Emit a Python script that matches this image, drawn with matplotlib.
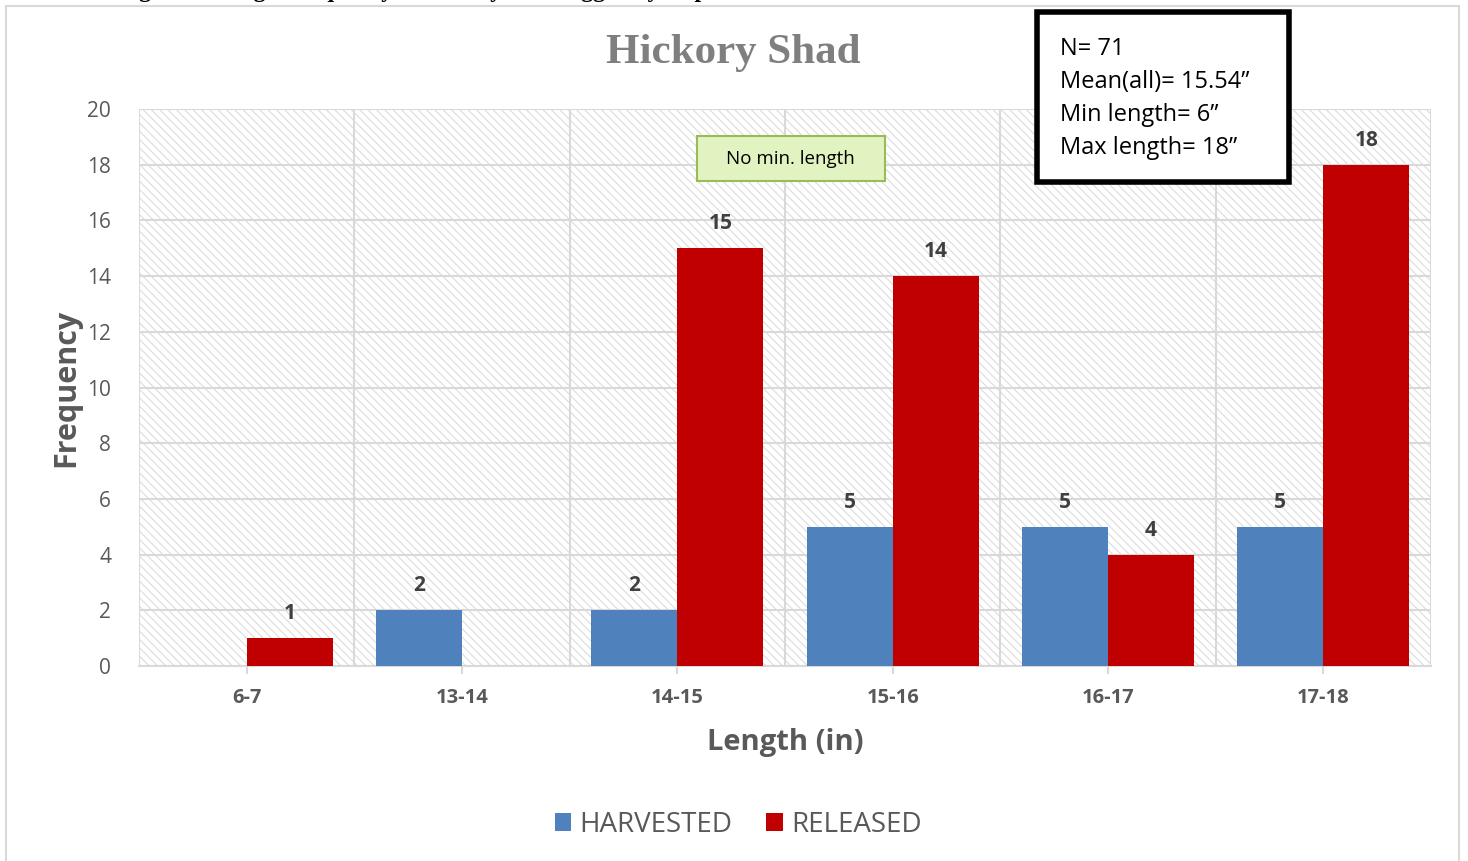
import matplotlib
matplotlib.use("Agg")
import matplotlib.pyplot as plt
import numpy as np
from matplotlib.patches import Rectangle

categories = ["6-7", "13-14", "14-15", "15-16", "16-17", "17-18"]
harvested = [0, 2, 2, 5, 5, 5]
released = [1, 0, 15, 14, 4, 18]
y_ticks = [0, 2, 4, 6, 8, 10, 12, 14, 16, 18, 20]
stats_lines = ["N= 71", "Mean(all)= 15.54\u201d", "Min length= 6\u201d", "Max length= 18\u201d"]

BLUE = "#4f81bd"
RED = "#c00000"
GRID = "#d9d9d9"
TXT = "#595959"
SANS = ["Open Sans", "DejaVu Sans"]

matplotlib.rcParams["hatch.linewidth"] = 0.8

fig = plt.figure(figsize=(14.68, 8.61), dpi=100)
ax = fig.add_axes([139 / 1468, 1 - 666 / 861, (1431 - 139) / 1468, (666 - 109) / 861])

x = np.arange(len(categories))
w = 0.4

# hatched plot background
ax.add_patch(Rectangle((-0.5, 0), len(categories), 20, facecolor="white",
                       edgecolor="#dcdcdc", hatch="\\\\\\\\", linewidth=0, zorder=0))

for yv in y_ticks:
    ax.axhline(yv, color=GRID, linewidth=1.5, zorder=1)
for b in np.arange(-0.5, len(categories) + 0.5, 1):
    ax.axvline(b, color=GRID, linewidth=1.5, zorder=1)

hb = ax.bar(x - w / 2, harvested, w, color=BLUE, label="HARVESTED", zorder=3)
rb = ax.bar(x + w / 2, released, w, color=RED, label="RELEASED", zorder=3)

for bars, vals in ((hb, harvested), (rb, released)):
    for bar, v in zip(bars, vals):
        if v == 0:
            continue
        ax.text(bar.get_x() + bar.get_width() / 2, v + 0.5, str(v), ha="center",
                va="bottom", fontsize=15, fontweight="bold", color="#404040",
                family=SANS, zorder=4)

ax.set_xlim(-0.5, len(categories) - 0.5)
ax.set_ylim(0, 20)
ax.set_yticks(y_ticks)
ax.set_yticklabels([str(t) for t in y_ticks], fontsize=15, color=TXT, family=SANS)
ax.set_xticks(x)
ax.set_xticklabels(categories, fontsize=14.5, fontweight="bold", color=TXT, family=SANS)
ax.tick_params(axis="y", length=0, pad=20)
ax.tick_params(axis="x", length=6, color=GRID, width=1.5, pad=10)
for s in ax.spines.values():
    s.set_visible(False)
ax.spines["bottom"].set_visible(True)
ax.spines["bottom"].set_color(GRID)
ax.spines["bottom"].set_linewidth(1.5)

ax.set_ylabel("Frequency", fontsize=22, fontweight="bold", color=TXT, family=SANS, labelpad=4)
ax.set_xlabel("Length (in)", fontsize=21, fontweight="bold", color=TXT, family=SANS, labelpad=14)

fig.text(733 / 1468, 1 - 53 / 861, "Hickory Shad", ha="center", va="center",
         fontsize=31, fontweight="bold", color="#7f7f7f", family=["Liberation Serif"])

# "No min. length" call-out
ax.add_patch(Rectangle((2.09, 17.41), 0.873, 1.62, facecolor="#e2f3c2",
                       edgecolor="#9bbb59", linewidth=1.5, zorder=6))
ax.text(2.527, 18.22, "No min. length", ha="center", va="center", fontsize=13.5,
        color="black", family=SANS, zorder=7)

# stats box
fig.patches.append(Rectangle((1037 / 1468, 1 - 182 / 861), 252 / 1468, 170 / 861,
                             transform=fig.transFigure, facecolor="white",
                             edgecolor="black", linewidth=4, zorder=10))
for i, line in enumerate(stats_lines):
    fig.text(1060 / 1468, 1 - (49 + i * 33) / 861, line, ha="left", va="center",
             fontsize=17, color="black", family=SANS, zorder=11)

# outer chart frame
fig.patches.append(Rectangle((6 / 1468, -0.01), 1453 / 1468, 1 - 6 / 861 + 0.01,
                             transform=fig.transFigure, facecolor="none",
                             edgecolor=GRID, linewidth=1.5, zorder=0))

# caption of the page, cut off by the top edge as in the source
fig.text(118 / 1468, 1 + 3 / 861, "Figure 5. Length frequency of hickory shad tagged by disposition.",
         ha="left", va="baseline", fontsize=17, fontweight="bold", color="black",
         family=["Liberation Serif"])

leg = fig.legend(handles=[hb, rb], loc="center", bbox_to_anchor=(738 / 1468, 1 - 825 / 861),
                 ncol=2, frameon=False, fontsize=20, handlelength=0.6, handleheight=0.6,
                 columnspacing=1.2, handletextpad=0.3)
for t in leg.get_texts():
    t.set_color(TXT)
    t.set_family(SANS)

fig.savefig("out.png", dpi=100)
